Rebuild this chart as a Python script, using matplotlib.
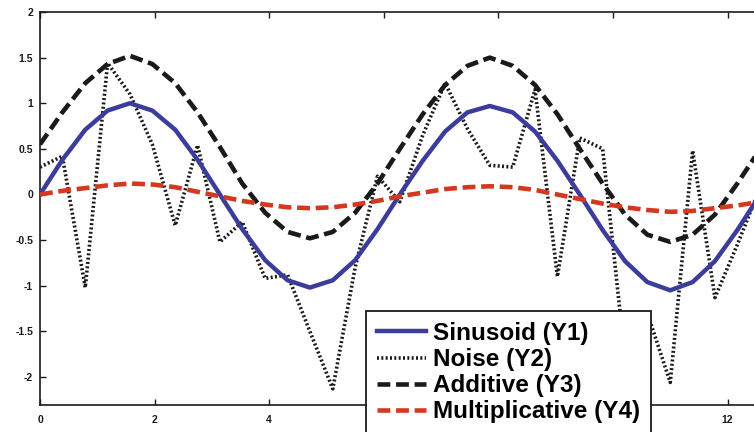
import numpy as np
import matplotlib
matplotlib.use("Agg")
import matplotlib.pyplot as plt

# sample positions (x) and series values
x_vals = [0.0, 0.39, 0.79, 1.18, 1.57, 1.96, 2.36, 2.75, 3.14, 3.53, 3.93, 4.32,
          4.71, 5.11, 5.50, 5.89, 6.28, 6.68, 7.07, 7.46, 7.85, 8.25, 8.64, 9.03,
          9.42, 9.82, 10.21, 10.60, 11.00, 11.39, 11.78, 12.17, 12.57]

y1_sinusoid = [0.0, 0.38, 0.71, 0.92, 1.0, 0.92, 0.71, 0.38, 0.0, -0.38, -0.72, -0.94,
               -1.02, -0.94, -0.72, -0.38, 0.0, 0.37, 0.69, 0.9, 0.97, 0.9, 0.69, 0.37,
               0.0, -0.39, -0.73, -0.96, -1.05, -0.96, -0.73, -0.39, 0.0]

y2_noise = [0.3, 0.42, -1.02, 1.44, 1.1, 0.55, -0.34, 0.54, -0.52, -0.3, -0.92, -0.88,
            -1.5, -2.13, -0.8, 0.2, -0.08, 0.65, 1.22, 0.72, 0.32, 0.3, 1.15, -0.9,
            0.62, 0.5, -1.8, -1.3, -2.06, 0.48, -1.13, -0.55, 0.08]

y3_additive = [0.55, 0.9, 1.22, 1.43, 1.52, 1.43, 1.22, 0.9, 0.52, 0.12, -0.2, -0.41,
               -0.48, -0.41, -0.2, 0.12, 0.5, 0.88, 1.2, 1.41, 1.5, 1.41, 1.2, 0.88,
               0.5, 0.12, -0.22, -0.44, -0.52, -0.44, -0.22, 0.12, 0.5]

y4_multiplicative = [0.0, 0.04, 0.07, 0.1, 0.12, 0.11, 0.08, 0.03, -0.02, -0.07, -0.11,
                     -0.14, -0.15, -0.14, -0.11, -0.07, -0.02, 0.02, 0.06, 0.08, 0.09,
                     0.08, 0.05, 0.0, -0.05, -0.1, -0.14, -0.17, -0.19, -0.18, -0.15,
                     -0.12, -0.08]

labels = ["Sinusoid (Y1)", "Noise (Y2)", "Additive (Y3)", "Multiplicative (Y4)"]
x_ticks = [0, 2, 4, 6, 8, 10, 12]
# labels 6, 8, 10 are hidden behind the legend in the reference
x_ticklabels = ["0", "2", "4", "", "", "", "12"]
y_ticks = [-2, -1.5, -1, -0.5, 0, 0.5, 1, 1.5, 2]
y_ticklabels = ["-2", "-1.5", "-1", "-0.5", "0", "0.5", "1", "1.5", "2"]

W, H = 754, 432
fig = plt.figure(figsize=(W / 100, H / 100), dpi=100)
left, right, top, bottom = 40, 760, 12, 405
ax = fig.add_axes([left / W, 1 - bottom / H, (right - left) / W, (bottom - top) / H])

blue = "#3c3c9c"
red = "#d2391f"
black = "#1a1a1a"

l1, = ax.plot(x_vals, y1_sinusoid, color=blue, lw=3.2, solid_joinstyle="round", zorder=3)
l2, = ax.plot(x_vals, y2_noise, color=black, lw=2.6, linestyle=(0, (0.55, 0.65)), zorder=2)
l3, = ax.plot(x_vals, y3_additive, color=black, lw=3.3, linestyle=(0, (2.8, 1.25)), zorder=4)
l4, = ax.plot(x_vals, y4_multiplicative, color=red, lw=3.3, linestyle=(0, (2.8, 1.25)), zorder=4)

ax.set_xlim(0, 12.566)
ax.set_ylim(-2.307, 2.0)
ax.set_xticks(x_ticks)
ax.set_xticklabels(x_ticklabels)
ax.set_yticks(y_ticks)
ax.set_yticklabels(y_ticklabels)
ax.tick_params(direction="in", length=4.5, width=1.0, top=True, right=True,
               labelsize=7.5, pad=5, colors=black)
ax.tick_params(axis="x", pad=7)
for lab in ax.get_xticklabels() + ax.get_yticklabels():
    lab.set_fontweight("bold")
    lab.set_fontfamily("Liberation Sans")
for sp in ax.spines.values():
    sp.set_linewidth(1.2)
    sp.set_color(black)

leg = fig.legend([l1, l2, l3, l4], labels, loc="upper left",
                 bbox_to_anchor=(366 / W, 1 - 311 / H), bbox_transform=fig.transFigure,
                 borderaxespad=0, frameon=True, fancybox=False, framealpha=1,
                 edgecolor=black, handlelength=2.0, handletextpad=0.3,
                 labelspacing=0.13, borderpad=0.45,
                 prop={"family": "Liberation Sans", "weight": "bold", "size": 17.5})
leg.get_frame().set_linewidth(1.3)

fig.savefig("out.png", dpi=100)
